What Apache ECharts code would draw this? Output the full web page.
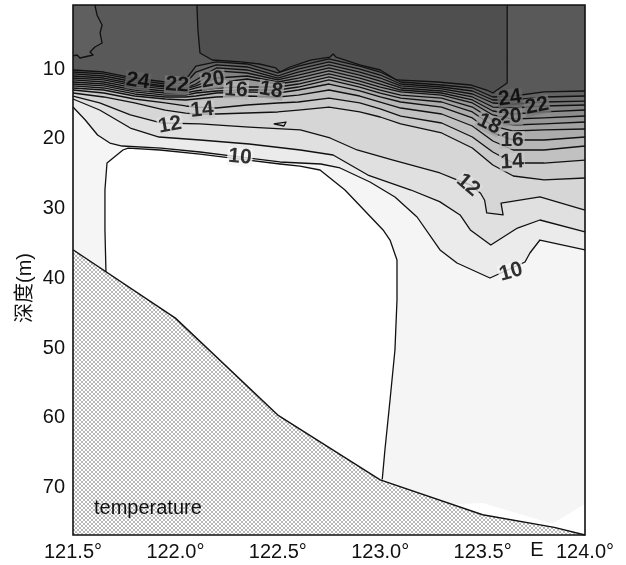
<!DOCTYPE html>
<html><head><meta charset="utf-8">
<script src="https://cdn.jsdelivr.net/npm/echarts@6/dist/echarts.min.js"></script>
<style>html,body{margin:0;padding:0;background:#fff}#c{width:626px;height:565px}</style>
</head><body><div id="c"></div>
<script>
// ---------------- data ----------------
const X_TICKS = [121.5, 122.0, 122.5, 123.0, 123.5, 124.0];
const Y_TICKS = [10, 20, 30, 40, 50, 60, 70];
const DEPTH_TOP = 0.8, DEPTH_BOTTOM = 76.8, LON_MIN = 121.5, LON_MAX = 124.0;

// shared longitudes for the thermocline isotherms 13..24 (°C)
const LON = [121.5, 121.65, 121.8, 121.95, 122.05, 122.1, 122.2, 122.35, 122.5, 122.6, 122.75, 122.9, 123.0, 123.1, 123.3, 123.45, 123.55, 123.65, 123.8, 124.0];
const T24 = [10.12, 10.41, 11.27, 11.84, 11.55, 9.55, 8.97, 9.26, 10.55, 9.55, 8.54, 9.55, 10.41, 11.84, 12.27, 12.70, 13.99, 13.85, 13.27, 13.13];
const T23 = [10.41, 10.69, 11.55, 12.13, 11.98, 10.41, 9.40, 9.69, 10.98, 9.98, 8.97, 9.98, 10.84, 12.13, 12.56, 13.13, 14.42, 14.42, 13.99, 13.85];
const T22 = [10.69, 10.98, 11.84, 12.41, 12.41, 11.55, 9.83, 10.12, 11.27, 10.41, 9.40, 10.41, 11.27, 12.41, 12.84, 13.56, 14.85, 15.0, 14.71, 14.57];
const T21 = [10.98, 11.27, 12.13, 12.56, 12.70, 12.13, 10.26, 10.55, 11.55, 10.84, 9.83, 10.84, 11.70, 12.70, 13.13, 13.99, 15.43, 15.57, 15.28, 15.14];
const T20 = [11.27, 11.55, 12.41, 12.84, 12.84, 12.41, 11.27, 10.98, 11.84, 11.27, 10.26, 11.27, 12.13, 12.99, 13.42, 14.42, 16.0, 16.43, 16.14, 15.86];
const T19 = [11.55, 11.84, 12.70, 13.13, 13.13, 12.70, 11.98, 11.41, 12.13, 11.70, 10.69, 11.70, 12.56, 13.27, 13.71, 14.85, 16.57, 17.15, 17.0, 16.72];
const T18 = [11.84, 12.13, 12.99, 13.42, 13.42, 13.13, 12.70, 12.56, 12.56, 12.13, 11.12, 12.13, 12.99, 13.71, 14.14, 15.43, 17.29, 18.01, 17.86, 17.58];
const T17 = [12.13, 12.41, 13.27, 13.71, 13.71, 13.42, 13.13, 12.99, 12.99, 12.56, 11.55, 12.56, 13.42, 14.14, 14.71, 16.14, 18.15, 18.87, 18.72, 18.58];
const T16 = [12.41, 12.70, 13.56, 13.99, 13.99, 13.85, 13.42, 13.27, 13.42, 12.99, 12.13, 13.13, 13.99, 14.71, 15.43, 17.0, 19.15, 20.16, 20.16, 19.73];
const T15 = [12.70, 12.99, 13.85, 14.28, 14.42, 14.28, 13.99, 13.85, 13.99, 13.71, 12.99, 13.85, 14.71, 15.57, 16.43, 18.15, 20.30, 21.59, 21.59, 21.02];
const T14 = [12.99, 13.42, 14.28, 14.85, 15.28, 15.43, 15.57, 15.14, 14.85, 14.71, 14.14, 14.85, 15.71, 16.72, 17.72, 19.73, 21.88, 23.46, 23.46, 23.03];
const T13 = [13.42, 13.99, 14.85, 15.86, 16.29, 16.43, 16.43, 16.29, 16.14, 15.86, 15.43, 16.14, 16.86, 17.86, 19.15, 21.31, 23.74, 25.32, 25.89, 25.61];

// isotherms with their own [lon, depth] points
const T12 = [[121.5,13.85],[121.63,14.85],[121.78,16.57],[121.93,17.72],[122.12,17.86],[122.36,18.3],[122.61,18.72],[122.755,19.87],[122.887,21.59],[123.063,23.03],[123.292,24.89],[123.375,25.89],[123.44,26.6],[123.49,27.8],[123.51,28.8],[123.52,30.6],[123.6,30.9],[123.59,29.2],[123.78,28.3],[124.0,30.2]];
const T11 = [[121.5,14.28],[121.63,15.86],[121.78,18.44],[121.92,19.73],[122.12,20.16],[122.36,20.73],[122.61,21.59],[122.77,22.31],[122.94,25.18],[123.15,27.33],[123.29,29.0],[123.39,30.91],[123.44,33.06],[123.54,35.21],[123.67,32.78],[123.78,31.63],[124.0,33.35]];
const T10 = [[121.5,15.43],[121.56,17.29],[121.62,19.44],[121.68,20.59],[121.74,21.02],[121.93,21.31],[122.12,21.88],[122.32,22.6],[122.51,23.31],[122.71,23.6],[122.804,24.17],[122.95,26.18],[123.072,28.33],[123.18,31.2],[123.292,35.93],[123.375,37.8],[123.536,39.95],[123.707,37.65],[123.731,36.36],[123.78,34.5],[124.0,35.93]];
const T25 = [[122.105,0.8],[122.11,4.38],[122.12,7.68],[122.18,8.69],[122.32,8.97],[122.41,9.26],[122.49,9.83],[122.51,10.41],[122.56,9.69],[122.66,8.69],[122.755,8.26],[122.77,7.83],[122.784,8.26],[122.9,9.4],[123.0,10.12],[123.08,11.55],[123.28,11.84],[123.44,12.27],[123.52,12.99],[123.55,13.42],[123.62,11.98],[123.62,5.82],[123.62,0.8]];
const STRIP = [[121.607,0.8],[121.617,2.23],[121.642,3.67],[121.632,4.81],[121.642,6.25],[121.607,6.82],[121.583,7.54],[121.598,7.97],[121.534,8.4],[121.52,7.97],[121.5,8.11]];
const T9 = [[121.661,39.09],[121.656,33.06],[121.656,27.33],[121.666,23.46],[121.744,21.59],[121.769,21.31],[121.925,21.59],[122.12,22.17],[122.315,22.89],[122.511,23.6],[122.608,23.89],[122.706,24.46],[122.828,27.33],[123.014,33.06],[123.048,34.5],[123.082,37.36],[123.082,43.1],[123.072,50.27],[123.048,57.44],[123.023,64.61],[123.01,68.85]];
const SPOT = [[122.48,17.86],[122.54,17.58],[122.53,18.15],[122.48,17.86]];
const GHOST = [[123.35,72.4],[123.5,72.2],[123.84,75.2],[124.0,72.35]];
const SEABED = [[121.5,35.9],[122.0,45.7],[122.5,59.6],[123.0,68.9],[123.5,73.9],[123.85,75.7],[124.0,76.8]];

// contour labels: lon, depth, text, rotation(deg)
const LABELS = [
  [121.817,11.7,'24',-8],[122.008,12.27,'22',-4],[122.184,11.55,'20',10],[122.296,12.99,'16',-3],
  [122.467,12.99,'18',-10],[122.13,15.86,'14',5],[121.974,18.0,'12',10],[122.315,22.6,'10',-5],
  [123.634,14.14,'24',8],[123.766,15.28,'22',12],[123.634,16.86,'20',5],[123.531,17.86,'18',-25],
  [123.644,20.16,'16',0],[123.644,23.31,'14',3],[123.429,26.61,'12',-40],[123.639,39.09,'10',15]
];

// ---------------- build ----------------
const zip = d => LON.map((x, i) => [x, d[i]]);
const LEVELS = [
  {L:10, pts:T10},{L:11, pts:T11},{L:12, pts:T12},{L:13, pts:zip(T13)},{L:14, pts:zip(T14)},
  {L:15, pts:zip(T15)},{L:16, pts:zip(T16)},{L:17, pts:zip(T17)},{L:18, pts:zip(T18)},
  {L:19, pts:zip(T19)},{L:20, pts:zip(T20)},{L:21, pts:zip(T21)},{L:22, pts:zip(T22)},
  {L:23, pts:zip(T23)},{L:24, pts:zip(T24)}
];
const gray = L => { const g = L < 9 ? 255 : Math.round(245 - (L - 9) * 10.4); return `rgb(${g},${g},${g})`; };
const FONT = '"Liberation Sans", Arial, "Noto Sans CJK SC", sans-serif';
const INK = '#111';

const pc = document.createElement('canvas'); pc.width = 4; pc.height = 4;
const cx = pc.getContext('2d'); cx.fillStyle = '#fff'; cx.fillRect(0,0,4,4); cx.fillStyle = '#b8b8b8';
[[0,0],[1,1],[2,2],[3,3],[3,0],[2,1],[1,2],[0,3]].forEach(p => cx.fillRect(p[0],p[1],1,1));
const HATCH = {image: pc, repeat: 'repeat'};

let zc = 1;
function poly(pts, fill, stroke, lw) {
  return {type:'custom', coordinateSystem:'cartesian2d', silent:true, z: zc++, data:[pts[0]],
    renderItem:(p, api) => ({type:'polygon', shape:{points: pts.map(q => api.coord(q))},
      style:{fill: fill, stroke: stroke || null, lineWidth: lw || 0}})};
}
function pline(pts, lw) {
  return {type:'custom', coordinateSystem:'cartesian2d', silent:true, z: zc++, data:[pts[0]],
    renderItem:(p, api) => ({type:'polyline', shape:{points: pts.map(q => api.coord(q))},
      style:{fill:null, stroke: INK, lineWidth: lw || 1.3, lineJoin:'round'}})};
}
const closeTop = pts => pts.concat([[LON_MAX, DEPTH_TOP],[LON_MIN, DEPTH_TOP]]);
const bedBetween = (a, b) => SEABED.filter(p => p[0] > a && p[0] < b).reverse();

const series = [];
LEVELS.forEach(lv => series.push(poly(closeTop(lv.pts), gray(lv.L))));
series.push(poly(T25, gray(25)));
series.push(poly(STRIP.concat([[LON_MIN, DEPTH_TOP]]), 'rgb(95,95,95)'));
series.push(poly(T9.concat(bedBetween(T9[0][0], T9[T9.length-1][0] + 0.02)), '#fff'));
series.push(poly(GHOST.concat(SEABED.filter(p => p[0] >= 123.35).reverse()), '#fff'));
LEVELS.forEach(lv => series.push(pline(lv.pts)));
[T25, STRIP, T9, SPOT].forEach(p => series.push(pline(p)));
series.push(poly(SEABED.concat([[LON_MAX, DEPTH_BOTTOM],[LON_MIN, DEPTH_BOTTOM]]), HATCH));
series.push(pline(SEABED, 1.4));
series.push(poly([[LON_MIN,DEPTH_TOP],[LON_MAX,DEPTH_TOP],[LON_MAX,DEPTH_BOTTOM],[LON_MIN,DEPTH_BOTTOM]], null, INK, 1.6));
series.push({type:'scatter', silent:true, z: zc++, symbolSize:2, itemStyle:{color:'rgba(0,0,0,0)'},
  data: LABELS.map(l => ({value:[l[0], l[1]], name:l[2],
    label:{rotate:l[3], backgroundColor: gray(+l[2] - 1)}})),
  label:{show:true, position:'inside', formatter: p => p.name, color:'#000', textBorderWidth:0, fontFamily: FONT,
    fontWeight:'bold', fontSize:21, padding:[0,1], lineHeight:18}});

const chart = echarts.init(document.getElementById('c'), null, {renderer:'canvas'});
chart.setOption({
  animation:false, backgroundColor:'#fff',
  grid:{left:73, right:41, top:5, bottom:30, show:true, backgroundColor: gray(9), borderWidth:0, outerBoundsMode:'none'},
  xAxis:{type:'value', min:LON_MIN, max:LON_MAX, interval:0.5,
    axisLine:{show:false}, axisTick:{show:false}, splitLine:{show:false},
    axisLabel:{fontSize:20, color:INK, fontFamily:FONT, margin:7, showMinLabel:true, showMaxLabel:true,
      formatter: v => v.toFixed(1) + '°'}},
  yAxis:{type:'value', inverse:true, min:DEPTH_TOP, max:DEPTH_BOTTOM,
    axisLine:{show:false}, axisTick:{show:false}, splitLine:{show:false},
    axisLabel:{fontSize:20, color:INK, fontFamily:FONT, margin:8, customValues: Y_TICKS}},
  graphic:[
    {type:'text', x:25, y:288, rotation:Math.PI/2, style:{text:'深度(m)', font:'20px ' + FONT, fill:INK, align:'center', verticalAlign:'middle'}},
    {type:'text', x:537, y:550, style:{text:'E', font:'20px ' + FONT, fill:INK, align:'center', verticalAlign:'middle'}},
    {type:'text', x:94, y:498, z:100, style:{text:'temperature', font:'20px ' + FONT, fill:INK, align:'left', verticalAlign:'top'}}
  ],
  series: series
});
</script></body></html>
